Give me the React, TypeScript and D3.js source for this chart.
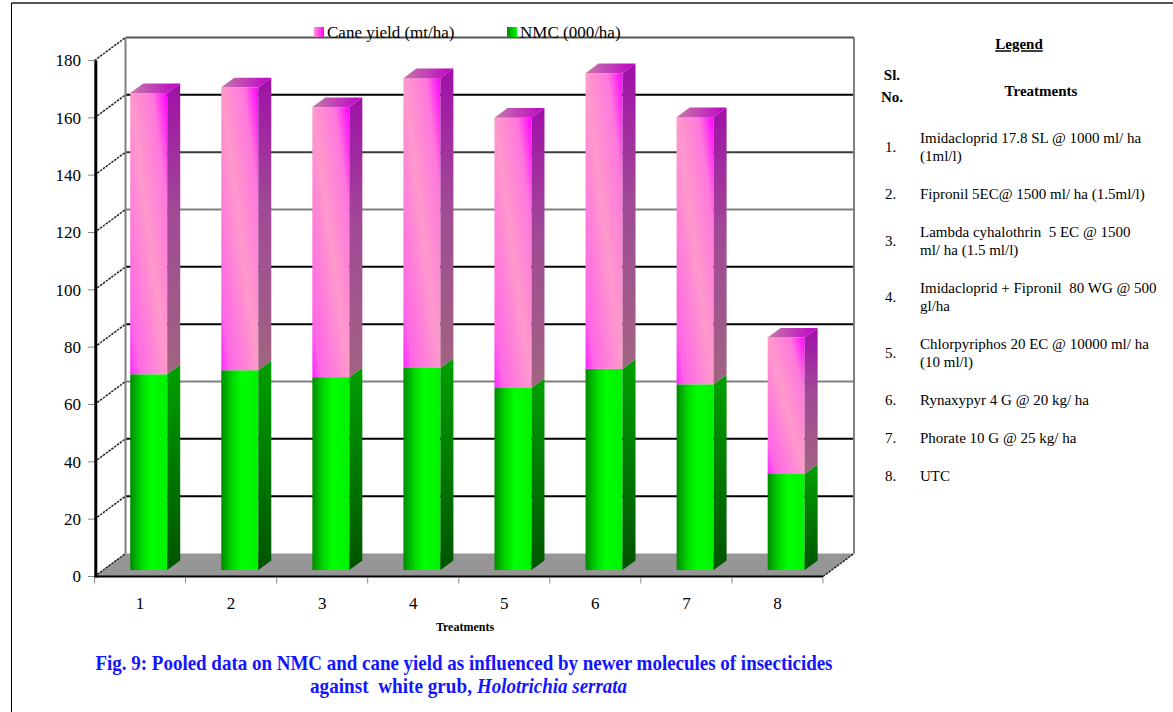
import React from 'react';
import * as d3 from 'd3';

// Treatments on the category axis
const categories = ['1', '2', '3', '4', '5', '6', '7', '8'];
// NMC (000/ha) – lower stack segment
const nmc = [68.3, 69.7, 67.3, 70.5, 63.5, 70.2, 64.8, 33.5];
// Cane yield (mt/ha) – upper stack segment
const caneYield = [98.1, 98.7, 94.2, 101.1, 94.3, 103.1, 93.2, 47.6];
// Value axis ticks
const yTicks = [0, 20, 40, 60, 80, 100, 120, 140, 160, 180];
const seriesNames = ['Cane yield (mt/ha)', 'NMC (000/ha)'];

// Treatment key shown at the right
const treatmentNumbers = ['1.', '2.', '3.', '4.', '5.', '6.', '7.', '8.'];
const treatmentLines = [
  ['Imidacloprid 17.8 SL @ 1000 ml/ ha', '(1ml/l)'],
  ['Fipronil 5EC@ 1500 ml/ ha (1.5ml/l)'],
  ['Lambda cyhalothrin  5 EC @ 1500', 'ml/ ha (1.5 ml/l)'],
  ['Imidacloprid + Fipronil  80 WG @ 500', 'gl/ha'],
  ['Chlorpyriphos 20 EC @ 10000 ml/ ha', '(10 ml/l)'],
  ['Rynaxypyr 4 G @ 20 kg/ ha'],
  ['Phorate 10 G @ 25 kg/ ha'],
  ['UTC'],
];

const FONT = '"Liberation Serif", "Times New Roman", serif';

// 3D box geometry
const FRONT_LEFT = 94.5;
const FRONT_RIGHT = 823;
const DEPTH_X = 31;
const DEPTH_Y = -23;
const BAR_D0 = 0.28;
const BAR_D1 = 0.7;

export default function App() {
  const y = d3.scaleLinear().domain([0, 180]).range([576.5, 60.5]);
  const x = d3
    .scaleBand<string>()
    .domain(categories)
    .range([FRONT_LEFT, FRONT_RIGHT])
    .paddingInner(0.594)
    .paddingOuter(0.297);

  const proj = (px: number, v: number, d: number): [number, number] => [
    px + DEPTH_X * d,
    y(v) + DEPTH_Y * d,
  ];
  const pts = (arr: [number, number][]) => arr.map((p) => p.join(',')).join(' ');

  const rows = categories.map((c, i) => ({ cat: c, nmc: nmc[i], cane: caneYield[i] }));
  const stacked = d3.stack<any>().keys(['nmc', 'cane'])(rows);

  const backLeft = FRONT_LEFT + DEPTH_X;
  const backRight = FRONT_RIGHT + DEPTH_X;

  const gridColor = (v: number) =>
    v === 60 || v === 120 ? '#808080' : v === 140 ? '#3a3a3a' : v === 180 ? '#555' : '#000';

  // floor parallelogram
  const floor = pts([
    proj(FRONT_LEFT, 0, 0),
    proj(FRONT_RIGHT, 0, 0),
    proj(FRONT_RIGHT, 0, 1),
    proj(FRONT_LEFT, 0, 1),
  ]);

  const fills = [
    { front: 'url(#greenFront)', side: 'url(#greenSide)', top: '#00c000' },
    { front: 'url(#pinkFront)', side: 'url(#pinkSide)', top: 'url(#pinkTop)' },
  ];

  // treatment key layout
  let cursor = 138;
  const keyRows = treatmentLines.map((lines, i) => {
    const ys = lines.map((_, j) => cursor + j * 18);
    cursor += lines.length * 18 + 20;
    return { num: treatmentNumbers[i], lines, ys };
  });

  return (
    <svg
      width={1173}
      height={712}
      style={{ position: 'absolute', left: 0, top: 0, background: '#fff', fontFamily: FONT }}
    >
      <defs>
        <linearGradient id="pinkFront" x1="0" y1="1" x2="1" y2="0">
          <stop offset="0" stopColor="#ff22ff" />
          <stop offset="0.12" stopColor="#ff66e6" />
          <stop offset="0.5" stopColor="#ff99cc" />
          <stop offset="0.8" stopColor="#ff77dd" />
          <stop offset="1" stopColor="#ff00ff" />
        </linearGradient>
        <linearGradient id="pinkSide" x1="0" y1="0" x2="0" y2="1">
          <stop offset="0" stopColor="#a010a8" />
          <stop offset="0.45" stopColor="#a04a96" />
          <stop offset="1" stopColor="#a06480" />
        </linearGradient>
        <linearGradient id="pinkTop" x1="0" y1="0" x2="1" y2="0">
          <stop offset="0" stopColor="#c47aa8" />
          <stop offset="1" stopColor="#c000c8" />
        </linearGradient>
        <linearGradient id="greenFront" x1="0" y1="0" x2="1" y2="0">
          <stop offset="0" stopColor="#008a00" />
          <stop offset="0.3" stopColor="#00d800" />
          <stop offset="0.55" stopColor="#00ff00" />
          <stop offset="1" stopColor="#00f200" />
        </linearGradient>
        <linearGradient id="greenSide" x1="0" y1="0" x2="0" y2="1">
          <stop offset="0" stopColor="#00a000" />
          <stop offset="1" stopColor="#005400" />
        </linearGradient>
        <linearGradient id="pinkSwatch" x1="0" y1="0" x2="1" y2="0">
          <stop offset="0" stopColor="#ff99cc" />
          <stop offset="1" stopColor="#ff00ff" />
        </linearGradient>
        <linearGradient id="greenSwatch" x1="0" y1="0" x2="1" y2="0">
          <stop offset="0" stopColor="#008800" />
          <stop offset="1" stopColor="#00ff00" />
        </linearGradient>
      </defs>

      {/* outer frame */}
      <line x1={11.5} y1={3} x2={1173} y2={3} stroke="#555" strokeWidth={2} />
      <line x1={11.5} y1={3} x2={11.5} y2={712} stroke="#000" strokeWidth={1} />

      {/* floor */}
      <polygon points={floor} fill="#969696" />

      {/* back wall gridlines */}
      {yTicks.map((v) =>
        v === 0 ? null : (
          <line
            key={'g' + v}
            x1={backLeft}
            x2={backRight}
            y1={y(v) + DEPTH_Y}
            y2={y(v) + DEPTH_Y}
            stroke={gridColor(v)}
            strokeWidth={2}
          />
        )
      )}
      {/* back wall edges */}
      <line x1={backLeft} x2={backLeft} y1={y(180) + DEPTH_Y} y2={y(0) + DEPTH_Y} stroke="#808080" strokeWidth={2} />
      <line x1={backRight} x2={backRight} y1={y(180) + DEPTH_Y} y2={y(0) + DEPTH_Y} stroke="#808080" strokeWidth={2} />

      {/* side wall lines */}
      {yTicks.map((v) => (
        <line
          key={'s' + v}
          x1={FRONT_LEFT}
          y1={y(v)}
          x2={backLeft}
          y2={y(v) + DEPTH_Y}
          stroke="#222"
          strokeWidth={1.5}
          strokeDasharray="2.5 1"
        />
      ))}
      <line
        x1={FRONT_RIGHT}
        y1={y(0)}
        x2={backRight}
        y2={y(0) + DEPTH_Y}
        stroke="#222"
        strokeWidth={1.5}
        strokeDasharray="2.5 1"
      />

      {/* bars */}
      {categories.map((c, i) => {
        const xl = x(c)!;
        const xr = xl + x.bandwidth();
        return (
          <g key={'b' + c}>
            {stacked.map((layer, s) => {
              const [v0, v1] = layer[i] as unknown as [number, number];
              const f0 = proj(xl, v1, BAR_D0);
              const f1 = proj(xr, v0, BAR_D0);
              const isTop = s === stacked.length - 1;
              return (
                <g key={layer.key}>
                  <rect x={f0[0]} y={f0[1]} width={f1[0] - f0[0]} height={f1[1] - f0[1]} fill={fills[s].front} />
                  <polygon
                    points={pts([
                      proj(xr, v0, BAR_D0),
                      proj(xr, v0, BAR_D1),
                      proj(xr, v1, BAR_D1),
                      proj(xr, v1, BAR_D0),
                    ])}
                    fill={fills[s].side}
                  />
                  {isTop && (
                    <polygon
                      points={pts([
                        proj(xl, v1, BAR_D0),
                        proj(xr, v1, BAR_D0),
                        proj(xr, v1, BAR_D1),
                        proj(xl, v1, BAR_D1),
                      ])}
                      fill={fills[s].top}
                    />
                  )}
                </g>
              );
            })}
          </g>
        );
      })}

      {/* front axes */}
      <line x1={FRONT_LEFT} x2={FRONT_RIGHT} y1={y(0)} y2={y(0)} stroke="#000" strokeWidth={2} />
      <line x1={95.8} x2={95.8} y1={y(180)} y2={y(0) + 1} stroke="#000" strokeWidth={3} />

      {/* y ticks and labels */}
      {yTicks.map((v) => (
        <g key={'yt' + v}>
          <line x1={88} x2={94} y1={y(v)} y2={y(v)} stroke="#888" strokeWidth={1} />
          <text x={81} y={y(v)} dy="0.35em" textAnchor="end" fontSize={17} fill="#000">
            {v}
          </text>
        </g>
      ))}

      {/* x ticks and labels */}
      {categories.map((c, i) => (
        <line
          key={'xt' + c}
          x1={FRONT_LEFT + x.step() * i}
          x2={FRONT_LEFT + x.step() * i}
          y1={y(0) + 1}
          y2={y(0) + 7}
          stroke="#888"
          strokeWidth={1}
        />
      ))}
      <line x1={FRONT_RIGHT} x2={FRONT_RIGHT} y1={y(0) + 1} y2={y(0) + 7} stroke="#888" strokeWidth={1} />
      {categories.map((c) => (
        <text
          key={'xl' + c}
          x={x(c)! + x.bandwidth() / 2}
          y={603}
          dy="0.35em"
          textAnchor="middle"
          fontSize={17}
        >
          {c}
        </text>
      ))}
      <text x={465} y={627} dy="0.35em" textAnchor="middle" fontSize={12} fontWeight="bold">
        Treatments
      </text>

      {/* series legend */}
      <rect x={314} y={27} width={10} height={10} fill="url(#pinkSwatch)" />
      <text x={327} y={37.5} fontSize={17}>
        {seriesNames[0]}
      </text>
      <rect x={507} y={27} width={10} height={10} fill="url(#greenSwatch)" />
      <text x={520} y={37.5} fontSize={17}>
        {seriesNames[1]}
      </text>

      {/* treatment key */}
      <text x={1019} y={44} dy="0.35em" textAnchor="middle" fontSize={15} fontWeight="bold" textDecoration="underline">
        Legend
      </text>
      <text x={892} y={75} dy="0.35em" textAnchor="middle" fontSize={15} fontWeight="bold">
        Sl.
      </text>
      <text x={892} y={97} dy="0.35em" textAnchor="middle" fontSize={15} fontWeight="bold">
        No.
      </text>
      <text x={1041} y={91} dy="0.35em" textAnchor="middle" fontSize={15} fontWeight="bold">
        Treatments
      </text>
      {keyRows.map((r) => (
        <g key={'k' + r.num}>
          <text x={885} y={d3.mean(r.ys)!} dy="0.35em" fontSize={15}>
            {r.num}
          </text>
          {r.lines.map((ln, j) => (
            <text key={j} x={920} y={r.ys[j]} dy="0.35em" fontSize={15} style={{ whiteSpace: 'pre' }}>
              {ln}
            </text>
          ))}
        </g>
      ))}

      {/* caption */}
      <text
        x={464}
        y={663}
        dy="0.35em"
        textAnchor="middle"
        fontSize={21}
        fontWeight="bold"
        fill="#1414ff"
        textLength={737}
        lengthAdjust="spacingAndGlyphs"
      >
        Fig. 9: Pooled data on NMC and cane yield as influenced by newer molecules of insecticides
      </text>
      <text
        x={310}
        y={686}
        dy="0.35em"
        fontSize={21}
        fontWeight="bold"
        fill="#1414ff"
        textLength={162}
        lengthAdjust="spacingAndGlyphs"
        style={{ whiteSpace: 'pre' }}
      >
        {'against  white grub,'}
      </text>
      <text
        x={477}
        y={686}
        dy="0.35em"
        fontSize={21}
        fontWeight="bold"
        fontStyle="italic"
        fill="#1414ff"
        textLength={150}
        lengthAdjust="spacingAndGlyphs"
      >
        Holotrichia serrata
      </text>
    </svg>
  );
}
